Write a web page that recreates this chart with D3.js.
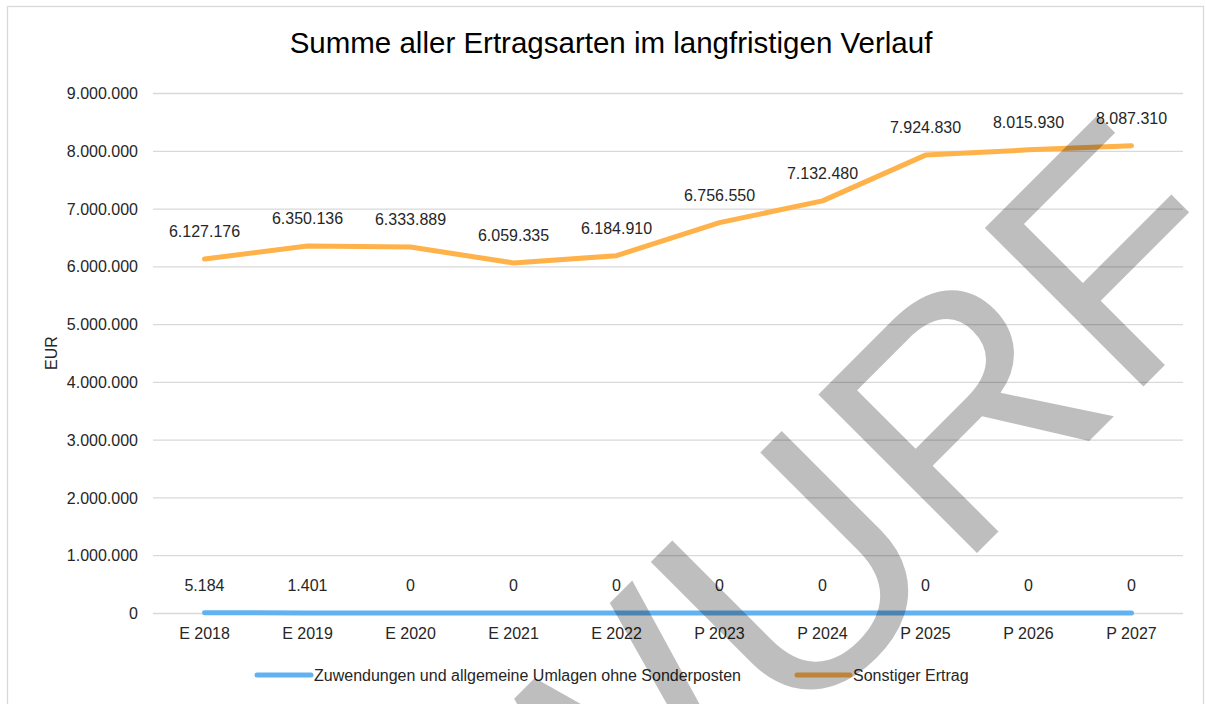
<!DOCTYPE html>
<html>
<head>
<meta charset="utf-8">
<script src="https://cdn.jsdelivr.net/npm/d3@7"></script>
<style>
  body { margin: 0; background: #fff; }
  text { font-family: "Liberation Sans", Arial, sans-serif; }
  .grid line { stroke: #d9d9d9; stroke-width: 1.3px; }
  .grid text { font-size: 16px; fill: #262626; }
</style>
</head>
<body>
<div id="chart"></div>
<script>
// Chart data
const categories = ['E 2018', 'E 2019', 'E 2020', 'E 2021', 'E 2022', 'P 2023', 'P 2024', 'P 2025', 'P 2026', 'P 2027'];
const zuwendungen = [5184, 1401, 0, 0, 0, 0, 0, 0, 0, 0];
const sonstigerErtrag = [6127176, 6350136, 6333889, 6059335, 6184910, 6756550, 7132480, 7924830, 8015930, 8087310];
const yTicks = [0, 1000000, 2000000, 3000000, 4000000, 5000000, 6000000, 7000000, 8000000, 9000000];
const seriesNames = ['Zuwendungen und allgemeine Umlagen ohne Sonderposten', 'Sonstiger Ertrag'];

const svgWidth = 1206;
const svgHeight = 704;
const plot = {left: 153, right: 1183, top: 93, bottom: 613};

const blue = '#62b1f1';
const orange = '#ffb24a';

// German number format, e.g. 6.127.176
const de = d3.formatLocale({decimal: ',', thousands: '.', grouping: [3], currency: ['', ' €']});
const fmt = de.format(',d');

const svg = d3.select('#chart').append('svg')
    .attr('width', svgWidth)
    .attr('height', svgHeight);

// Chart border
svg.append('rect')
    .attr('x', 7.5).attr('y', 6.5)
    .attr('width', 1196).attr('height', 700)
    .attr('fill', '#fff')
    .attr('stroke', '#d9d9d9')
    .attr('stroke-width', 1.3);

const x = d3.scalePoint().domain(categories).range([plot.left, plot.right]).padding(0.5);
const y = d3.scaleLinear().domain([0, 9000000]).range([plot.bottom, plot.top]);

// Title
svg.append('text')
    .attr('x', 611).attr('y', 53)
    .attr('text-anchor', 'middle')
    .style('font-size', '29.5px')
    .attr('fill', '#000')
    .text('Summe aller Ertragsarten im langfristigen Verlauf');

// Gridlines + y tick labels
const grid = svg.append('g')
    .attr('class', 'grid')
    .attr('transform', 'translate(' + plot.left + ',0)')
    .call(d3.axisLeft(y)
        .tickValues(yTicks)
        .tickSize(-(plot.right - plot.left))
        .tickPadding(15)
        .tickFormat(fmt));
grid.select('.domain').remove();
grid.selectAll('text').attr('dy', '0.35em');

// x labels
svg.append('g')
    .selectAll('text')
    .data(categories)
    .enter()
    .append('text')
        .attr('x', d => x(d))
        .attr('y', 639)
        .attr('text-anchor', 'middle')
        .style('font-size', '16px')
        .attr('fill', '#262626')
        .text(d => d);

// y axis title
svg.append('text')
    .attr('transform', 'translate(57,353) rotate(-90)')
    .attr('text-anchor', 'middle')
    .style('font-size', '16px')
    .attr('fill', '#262626')
    .text('EUR');

// Lines
const line = d3.line()
    .x((d, i) => x(categories[i]))
    .y(d => y(d));

const series = [
    {name: seriesNames[0], values: zuwendungen, color: blue},
    {name: seriesNames[1], values: sonstigerErtrag, color: orange}
];

series.forEach(s => {
    svg.append('path')
        .datum(s.values)
        .attr('d', line)
        .attr('fill', 'none')
        .attr('stroke', s.color)
        .attr('stroke-width', 5)
        .attr('stroke-linecap', 'round')
        .attr('stroke-linejoin', 'round');

    svg.append('g')
        .selectAll('text')
        .data(s.values)
        .enter()
        .append('text')
            .attr('x', (d, i) => x(categories[i]))
            .attr('y', d => y(d) - 22)
            .attr('text-anchor', 'middle')
            .style('font-size', '16px')
            .attr('fill', '#262626')
            .text(d => fmt(d));
});

// Legend
const legendY = 675;
const legendItems = [
    {x0: 257, x1: 311, tx: 314, color: blue, name: seriesNames[0]},
    {x0: 797, x1: 850, tx: 853, color: orange, name: seriesNames[1]}
];
legendItems.forEach(item => {
    svg.append('line')
        .attr('x1', item.x0).attr('x2', item.x1)
        .attr('y1', legendY).attr('y2', legendY)
        .attr('stroke', item.color)
        .attr('stroke-width', 5)
        .attr('stroke-linecap', 'round');
    svg.append('text')
        .attr('x', item.tx).attr('y', legendY + 6)
        .style('font-size', '16px')
        .attr('fill', '#262626')
        .text(item.name);
});

// Draft watermark over the chart
svg.append('text')
    .attr('transform', 'translate(113,1417) rotate(-45)')
    .style('font-size', '326px')
    .attr('fill', '#000')
    .attr('opacity', 0.25)
    .text('ENTWURF');
</script>
</body>
</html>
